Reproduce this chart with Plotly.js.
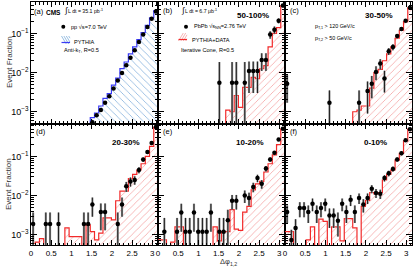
<!DOCTYPE html>
<html><head><meta charset="utf-8">
<script src="https://cdn.plot.ly/plotly-3.0.1.min.js"></script>
<style>html,body{margin:0;padding:0;background:#fff}#chart{width:415px;height:267px}</style>
</head><body><div id="chart"></div>
<script>
// ---------------- data ----------------
const nBins = 30;
const xTickVals = [0, 0.5, 1, 1.5, 2, 2.5, 3];
const xTickText = ['0', '0.5', '1', '1.5', '2', '2.5', '3'];
const panelLabels = ['(a)', '(b)', '(c)', '(d)', '(e)', '(f)'];
const centralityLabels = ['', '50-100%', '30-50%', '20-30%', '10-20%', '0-10%'];
const N = null;

// (a) pp 7 TeV data and PYTHIA
const ppData = [N,N,N,N,N,N,N,N,N,N,N,N,N,N, 5.4e-4,8.1e-4,1.1e-3,1.7e-3,2.5e-3,3.9e-3,6.3e-3,9.8e-3,0.0154,0.024,0.037,0.060,0.093,0.145,0.235,0.36];
const ppErr  = [N,N,N,N,N,N,N,N,N,N,N,N,N,N, 5e-5,6e-5,8e-5,1e-4,1.3e-4,1.7e-4,2.2e-4,3e-4,4e-4,5e-4,7e-4,9e-4,1.2e-3,1.5e-3,2e-3,2.5e-3];
const ppPythia = [1.5e-4,1.5e-4,1.6e-4,1.6e-4,1.7e-4,1.8e-4,1.9e-4,2.0e-4,2.2e-4,2.4e-4,2.7e-4,3.0e-4,3.5e-4,4.2e-4, 7.1e-4,9.3e-4,1.4e-3,2.2e-3,2.9e-3,4.8e-3,7.2e-3,0.0126,0.0186,0.030,0.045,0.069,0.104,0.16,0.25,0.38];

// (b) PbPb 50-100%
const pb50Data = [N,N,N,N,N,N,N,N,N,N,N,N,N,N, 5.5e-3,N,N,5.5e-3,5.5e-3,N,5.5e-3,0.011,0.011,0.011,0.021,0.021,0.093,0.124,0.21,0.51];
const pb50Err  = [N,N,N,N,N,N,N,N,N,N,N,N,N,N, 0.013,N,N,0.013,0.013,N,0.013,0.008,0.008,0.008,0.01,0.01,0.02,0.025,0.03,0.05];
const pb50Ref  = [2e-4,2e-4,2e-4,2e-4,2e-4,2e-4,2e-4,2e-4,2e-4,2e-4,2e-4,2e-4,2e-4,2e-4,2e-4,2e-4, 1.1e-3,1.0e-3,2.6e-3,1.3e-3,4.2e-3,4.2e-3,7.5e-3,7e-3,0.0125,0.015,0.045,0.1,0.14,0.5];

// (c) PbPb 30-50%
const pb30Data = [5.2e-3,N,N,N,N,N,N,N,N,N,1.7e-3,N,N,N,N,N,N,1.7e-3,N,3.4e-3,5.2e-3,0.0104,0.017,7.1e-3,0.035,0.045,0.085,0.13,0.21,0.45];
const pb30Err  = [3.5e-3,N,N,N,N,N,N,N,N,N,1.8e-3,N,N,N,N,N,N,1.8e-3,N,2.5e-3,3e-3,4e-3,5e-3,4e-3,7e-3,8e-3,0.01,0.012,0.015,0.02];
const pb30Ref  = [2e-4,2e-4,2e-4,2e-4,2e-4,2e-4,2e-4,2e-4,2e-4,2e-4,2e-4,2e-4,2e-4,2e-4,2e-4,2e-4, 1e-3,1.1e-3,1.4e-3,1.4e-3,4e-3,0.01,0.012,0.02,0.03,0.045,0.075,0.12,0.2,0.45];

// (d) PbPb 20-30%
const pb20Data = [1.9e-3,N,N,1.9e-3,1.9e-3,N,1.9e-3,N,N,N,N,N,1.9e-3,1.9e-3,5.9e-3,N,3.8e-3,3.8e-3,N,N,1.9e-3,5.9e-3,0.0174,0.023,0.025,0.045,0.083,0.13,0.22,0.56];
const pb20Err  = [1.8e-3,N,N,1.8e-3,1.8e-3,N,1.8e-3,N,N,N,N,N,1.8e-3,1.8e-3,3e-3,N,2.5e-3,2.5e-3,N,N,1.8e-3,3e-3,5e-3,6e-3,6e-3,8e-3,0.01,0.015,0.02,0.03];
const pb20Ref  = [6e-4,6.5e-4,8e-4,2e-4,2e-4,2e-4,2e-4,2e-4,1.5e-3,9e-4,9e-4,9e-4,2e-4,1.8e-3,1.2e-3,7.4e-4,1.1e-3,2.7e-3,2.7e-3,2.4e-3,7.4e-3,0.013,0.013,0.027,0.035,0.045,0.065,0.1,0.18,0.55];

// (e) PbPb 10-20%
const pb10Data = [N,1.2e-3,N,N,1.2e-3,3.7e-3,1.2e-3,1.2e-3,3.7e-3,1.2e-3,1.2e-3,1.2e-3,3.7e-3,N,1.2e-3,1.2e-3,2.35e-3,7.4e-3,7.4e-3,N,0.01,8.7e-3,0.0167,0.028,0.020,0.049,0.084,0.124,0.27,0.51];
const pb10Err  = [N,1.5e-3,N,N,1.5e-3,2.5e-3,1.5e-3,1.5e-3,2.5e-3,1.5e-3,1.5e-3,1.5e-3,2.5e-3,N,1.5e-3,1.5e-3,2e-3,3e-3,3e-3,N,3.5e-3,3.2e-3,4.5e-3,6e-3,5e-3,8e-3,0.01,0.013,0.02,0.03];
const pb10Ref  = [7.4e-4,7.4e-4,2e-4,6.5e-4,1.6e-3,1.6e-3,2e-4,2e-4,2e-4,2e-4,2e-4,2e-4,2e-4,1.6e-3,7e-4,1.2e-3,1.2e-3,4.4e-3,1.4e-3,1.3e-3,3.8e-3,5.3e-3,0.014,0.02,0.023,0.04,0.065,0.11,0.2,0.5];

// (f) PbPb 0-10%
const pb0Data = [3.8e-3,7.4e-4,1.5e-3,4.8e-3,4.8e-3,3.8e-3,6.2e-3,3.8e-3,4.8e-3,6.2e-3,3.1e-3,3.1e-3,2.3e-3,6.2e-3,3.8e-3,7.9e-3,3.8e-3,8.7e-3,5.9e-3,8.7e-3,0.015,0.0117,0.0112,0.028,0.037,0.048,0.084,0.12,0.26,0.49];
const pb0Err  = [1.8e-3,6e-4,1e-3,2e-3,2e-3,1.8e-3,2.2e-3,1.8e-3,2e-3,2.2e-3,1.6e-3,1.6e-3,1.4e-3,2.2e-3,1.8e-3,2.5e-3,1.8e-3,2.6e-3,2.2e-3,2.6e-3,3.5e-3,3e-3,3e-3,5e-3,6e-3,7e-3,0.01,0.013,0.02,0.03];
const pb0Ref  = [1.2e-3,1.2e-3,4e-4,4e-4,4e-4,7.4e-4,1.6e-3,4e-4,2.5e-3,2.2e-3,4e-4,1.6e-3,1.6e-3,7e-4,2.6e-3,2.6e-3,1.5e-3,4e-4,5.3e-3,7.5e-3,0.012,0.011,0.012,0.025,0.035,0.045,0.08,0.12,0.25,0.5];

// ---------------- build ----------------
const binW = Math.PI / nBins;
const centers = Array.from({length: nBins}, (_, i) => (i + 0.5) * binW);
const edges = Array.from({length: nBins + 1}, (_, i) => i * binW);

const FONT = 'Liberation Sans, Arial, Helvetica, sans-serif';
const BLUE = '#3b3bf5', BLUE_H = '#7faedb';
const RED = '#f22a2a', RED_H = '#f4a0a0';

const panels = [
  {data: ppData, err: ppErr, ref: ppPythia, line: BLUE, hatch: BLUE_H, shape: '\\'},
  {data: pb50Data, err: pb50Err, ref: pb50Ref, line: RED, hatch: RED_H, shape: '/'},
  {data: pb30Data, err: pb30Err, ref: pb30Ref, line: RED, hatch: RED_H, shape: '/'},
  {data: pb20Data, err: pb20Err, ref: pb20Ref, line: RED, hatch: RED_H, shape: '/'},
  {data: pb10Data, err: pb10Err, ref: pb10Ref, line: RED, hatch: RED_H, shape: '/'},
  {data: pb0Data, err: pb0Err, ref: pb0Ref, line: RED, hatch: RED_H, shape: '/'}
];

const traces = [];
panels.forEach((p, k) => {
  const sfx = k === 0 ? '' : String(k + 1);
  traces.push({
    type: 'scatter', mode: 'lines', xaxis: 'x' + sfx, yaxis: 'y' + sfx,
    x: edges, y: p.ref.concat([p.ref[nBins - 1]]),
    line: {shape: 'hv', color: p.line, width: 1.2},
    fill: 'tozeroy', fillcolor: 'rgba(255,255,255,0)',
    fillpattern: {shape: p.shape, fgcolor: p.hatch, bgcolor: 'rgba(255,255,255,0)', size: 5, solidity: 0.15, fillmode: 'replace'},
    hoverinfo: 'skip', showlegend: false
  });
  if (k > 0) {
    // wider grey systematic band behind the statistical bar
    traces.push({
      type: 'scatter', mode: 'none', xaxis: 'x' + sfx, yaxis: 'y' + sfx,
      x: centers, y: p.data,
      error_y: {type: 'data', array: p.err, visible: true, color: '#9a9a9a', thickness: 2.2, width: 0},
      showlegend: false
    });
  }
  traces.push({
    type: 'scatter', mode: 'markers', xaxis: 'x' + sfx, yaxis: 'y' + sfx,
    x: centers, y: p.data,
    marker: {color: '#000', size: 4.5},
    error_y: {type: 'data', array: p.err, visible: true, color: '#111', thickness: 0.9, width: 0},
    showlegend: false
  });
});

const W = 415, H = 267, ML = 31, MR = 3, MT = 2, MB = 22;
const PW = W - ML - MR, PH = H - MT - MB;
const px = v => (v - ML) / PW;
const py = v => (H - MB - v) / PH;

const layout = {
  width: W, height: H, margin: {l: ML, r: MR, t: MT, b: MB},
  paper_bgcolor: '#fff', plot_bgcolor: '#fff', showlegend: false,
  font: {family: FONT, size: 8, color: '#000'},
  annotations: [], shapes: []
};

for (let k = 0; k < 6; k++) {
  const col = k % 3, row = Math.floor(k / 3);
  const sfx = k === 0 ? '' : String(k + 1);
  layout['xaxis' + sfx] = {
    domain: [col / 3, (col + 1) / 3], anchor: 'y' + sfx, range: [0, Math.PI],
    tickvals: xTickVals, ticktext: xTickText, showticklabels: row === 1,
    ticks: 'inside', ticklen: 5, tickwidth: 1, tickcolor: '#000',
    minor: {ticks: 'inside', ticklen: 2.5, dtick: 0.1, tick0: 0, tickcolor: '#000', showgrid: false},
    showline: true, linecolor: '#000', linewidth: 1, mirror: 'allticks',
    showgrid: false, zeroline: false, tickfont: {size: 8, family: FONT}
  };
  layout['yaxis' + sfx] = {
    domain: row === 0 ? [0.5, 1] : [0, 0.5], anchor: 'x' + sfx, type: 'log',
    range: row === 0 ? [-3.3, -0.2] : [-3.26, -0.16],
    dtick: 1, exponentformat: 'power', showticklabels: col === 0,
    ticks: 'inside', ticklen: 6, tickwidth: 1, tickcolor: '#000',
    minor: {ticks: 'inside', ticklen: 3, dtick: 'D1', tickcolor: '#000', showgrid: false},
    showline: true, linecolor: '#000', linewidth: 1, mirror: 'allticks',
    showgrid: false, zeroline: false, tickfont: {size: 7.2, family: FONT}
  };
}

function txt(x, y, text, size, opts) {
  layout.annotations.push(Object.assign({
    xref: 'paper', yref: 'paper', x: px(x), y: py(y), text: text, showarrow: false,
    xanchor: 'left', yanchor: 'middle', font: {size: size, family: FONT, color: '#000'}
  }, opts || {}));
}

// panel labels
const labelPos = [[32, 11.5], [160.5, 10.5], [287.5, 10.5], [33.5, 131], [160.5, 131], [287.5, 131]];
labelPos.forEach((p, k) => txt(p[0], p[1], panelLabels[k], 7.5));
txt(43.5, 12, '<b>CMS</b>', 6.5);
// centrality
const centPos = [null, [235, 15.5], [363, 15.5], [110, 142], [234, 142], [362, 142]];
centPos.forEach((p, k) => { if (p) txt(p[0], p[1], '<b>' + centralityLabels[k] + '</b>', 8); });

// luminosity
txt(61.5, 10.5, '∫', 8);
txt(66, 10.5, 'L dt = 35.1 pb<sup>-1</sup>', 5.2);
txt(178.5, 10.5, '∫', 8);
txt(183, 10.5, 'L dt = 6.7 μb<sup>-1</sup>', 5.2);

// legend (a)
layout.shapes.push({type: 'circle', xref: 'paper', yref: 'paper', x0: px(61.3), x1: px(65.3), y0: py(24.7), y1: py(28.7), fillcolor: '#000', line: {width: 0}});
txt(69, 27, 'pp √s=7.0 TeV', 5.6);
function legendBox(x0, x1, y0, y1, yl, hatchCol, lineCol, dir) {
  for (let i = 0; i < 4; i++) {
    const a = x0 + i * 2.4;
    const b = Math.min(a + (y1 - y0) * 0.6, x1);
    if (dir > 0) layout.shapes.push({type: 'line', xref: 'paper', yref: 'paper', x0: px(a), x1: px(b), y0: py(y0), y1: py(y0 + (b - a) / 0.6), line: {color: hatchCol, width: 0.8}});
    else layout.shapes.push({type: 'line', xref: 'paper', yref: 'paper', x0: px(a), x1: px(b), y0: py(y1), y1: py(y1 - (b - a) / 0.6), line: {color: hatchCol, width: 0.8}});
  }
  layout.shapes.push({type: 'line', xref: 'paper', yref: 'paper', x0: px(x0), x1: px(x1), y0: py(yl), y1: py(yl), line: {color: lineCol, width: 1.2}});
}
legendBox(61.5, 70, 36, 44, 42.5, BLUE_H, BLUE, 1);
txt(72, 42.5, 'PYTHIA', 5.6);
txt(62, 50.5, 'Anti-k<sub>T</sub>, R=0.5', 5.6);

// legend (b)
layout.shapes.push({type: 'circle', xref: 'paper', yref: 'paper', x0: px(184), x1: px(188), y0: py(24.7), y1: py(28.7), fillcolor: '#000', line: {width: 0}});
txt(191.5, 27, 'PbPb √s<sub>NN</sub>=2.76 TeV', 5.6);
legendBox(178.5, 187, 33, 41, 39.5, RED_H, RED, -1);
txt(190, 40, 'PYTHIA+DATA', 5.6);
txt(178.5, 50, 'Iterative Cone, R=0.5', 5.6);

// cuts (c)
txt(313, 26.5, 'p<sub>T,1</sub> > 120 GeV/c', 5.4);
txt(313, 38.5, 'p<sub>T,2</sub> > 50 GeV/c', 5.4);

// axis titles
txt(9, 62, 'Event Fraction', 8, {textangle: -90, xanchor: 'center', yanchor: 'middle', font: {size: 8, family: FONT, color: '#333'}});
txt(9, 184, 'Event Fraction', 8, {textangle: -90, xanchor: 'center', yanchor: 'middle', font: {size: 8, family: FONT, color: '#333'}});
txt(228, 261.5, 'Δφ<sub>1,2</sub>', 7.5, {xanchor: 'center', font: {size: 7.5, family: FONT, color: '#333'}});

Plotly.newPlot('chart', traces, layout, {staticPlot: true, displayModeBar: false});
</script>
</body></html>
